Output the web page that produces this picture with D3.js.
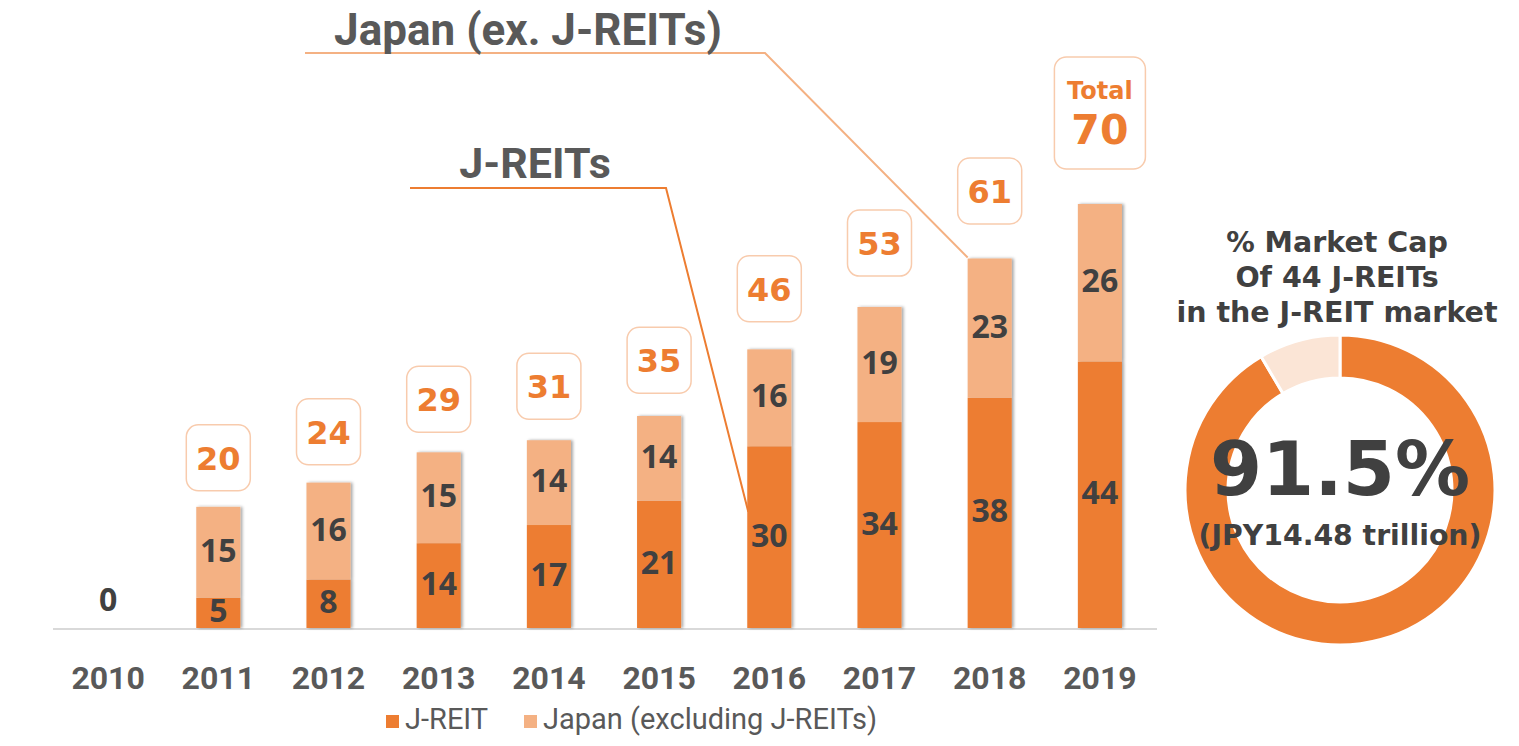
<!DOCTYPE html>
<html lang="en">
<head>
	<meta charset="UTF-8" />
	<script src="https://d3js.org/d3.v7.min.js"></script>
	<title>J-REIT market cap</title>
	<style>
		body { margin: 0; background: #fff; }
	</style>
</head>
<body>
	<script>
		var w = 1519;
		var h = 746;

		// data (JPY trillion)
		var years = ["2010", "2011", "2012", "2013", "2014", "2015", "2016", "2017", "2018", "2019"];
		var jreit = [0, 5, 8, 14, 17, 21, 30, 34, 38, 44];
		var japanEx = [0, 15, 16, 15, 14, 14, 16, 19, 23, 26];
		var seriesNames = ["J-REIT", "Japan (excluding J-REITs)"];
		var shareLabels = ["44 J-REITs", "Others"];
		var shareValues = [91.5, 8.5];

		var dark = "#ED7D31";
		var light = "#F4B183";
		var pale = "#FBE5D6";
		var textDark = "#404040";
		var textGray = "#595959";
		var narrow = "'Liberation Sans Narrow', 'Roboto', sans-serif";
		var verdanaLike = "'DejaVu Sans', Verdana, sans-serif";

		var svg = d3.select("body")
			.append("svg")
			.attr("width", w)
			.attr("height", h);

		var defs = svg.append("defs");
		var shadow = defs.append("filter").attr("id", "shadow")
			.attr("x", "-20%").attr("y", "-5%").attr("width", "150%").attr("height", "110%");
		shadow.append("feDropShadow")
			.attr("dx", 2).attr("dy", 0).attr("stdDeviation", 1.8)
			.attr("flood-color", "#000").attr("flood-opacity", 0.35);

		var x = d3.scaleBand()
			.domain(years)
			.range([53, 1155])
			.padding(0);

		var y = d3.scaleLinear()
			.domain([0, 70])
			.range([628, 204]);

		var barW = x.bandwidth() * 0.4;

		var rows = years.map(function (yr, i) {
			return { year: yr, jreit: jreit[i], japan: japanEx[i], total: jreit[i] + japanEx[i] };
		});

		// callout lines (drawn first, behind bars)
		var r2018 = rows[8];
		svg.append("polyline")
			.attr("points", [[305, 53], [765, 53], [x(r2018.year) + x.bandwidth() / 2 - barW / 2, y(r2018.total) - 1]].join(" "))
			.attr("fill", "none")
			.attr("stroke", light)
			.attr("stroke-width", 2);

		var r2016 = rows[6];
		svg.append("polyline")
			.attr("points", [[410, 188], [666, 188], [x(r2016.year) + x.bandwidth() / 2 - barW / 2 + 1, y(r2016.jreit * 0.64)]].join(" "))
			.attr("fill", "none")
			.attr("stroke", dark)
			.attr("stroke-width", 2);

		svg.append("text")
			.attr("x", 528).attr("y", 45)
			.attr("text-anchor", "middle")
			.style("font-family", narrow)
			.style("font-weight", "bold")
			.style("font-size", "44px")
			.attr("fill", textGray)
			.text("Japan (ex. J-REITs)");

		svg.append("text")
			.attr("x", 535).attr("y", 178)
			.attr("text-anchor", "middle")
			.style("font-family", narrow)
			.style("font-weight", "bold")
			.style("font-size", "43px")
			.attr("fill", textGray)
			.text("J-REITs");

		// axis baseline
		svg.append("line")
			.attr("x1", 53).attr("x2", 1157)
			.attr("y1", 629).attr("y2", 629)
			.attr("stroke", "#D9D9D9")
			.attr("stroke-width", 2);

		var xAxis = svg.append("g")
			.attr("transform", "translate(0,629)")
			.call(d3.axisBottom(x).tickSize(0).tickPadding(0));
		xAxis.select(".domain").remove();
		xAxis.selectAll("text")
			.attr("y", 60)
			.attr("dy", null)
			.style("font-family", narrow)
			.style("font-weight", "bold")
			.style("font-size", "32px")
			.attr("fill", textGray);

		var bars = svg.append("g").selectAll("g")
			.data(rows.filter(function (d) { return d.total > 0; }))
			.enter()
			.append("g")
			.attr("filter", "url(#shadow)");

		bars.append("rect")
			.attr("x", function (d) { return x(d.year) + x.bandwidth() / 2 - barW / 2; })
			.attr("width", barW)
			.attr("y", function (d) { return y(d.jreit); })
			.attr("height", function (d) { return y(0) - y(d.jreit); })
			.attr("fill", dark);

		bars.append("rect")
			.attr("x", function (d) { return x(d.year) + x.bandwidth() / 2 - barW / 2; })
			.attr("width", barW)
			.attr("y", function (d) { return y(d.total); })
			.attr("height", function (d) { return y(d.jreit) - y(d.total); })
			.attr("fill", light);

		// segment values
		var segLabels = svg.append("g")
			.style("font-family", "'Open Sans', sans-serif")
			.style("font-weight", "bold")
			.style("font-size", "32px")
			.attr("fill", textDark)
			.attr("text-anchor", "middle");

		rows.forEach(function (d) {
			var cx = x(d.year) + x.bandwidth() / 2;
			if (d.total === 0) {
				segLabels.append("text").attr("x", cx).attr("y", y(0) - 26)
					.attr("dominant-baseline", "middle").text(d.total);
				return;
			}
			segLabels.append("text").attr("x", cx).attr("y", y(d.jreit / 2) + 1)
				.attr("dominant-baseline", "middle").text(d.jreit);
			segLabels.append("text").attr("x", cx).attr("y", y(d.jreit + d.japan / 2) + 1)
				.attr("dominant-baseline", "middle").text(d.japan);
		});

		// total boxes
		var totals = svg.append("g");
		rows.forEach(function (d, i) {
			if (d.total === 0) return;
			var cx = x(d.year) + x.bandwidth() / 2;
			var last = i === rows.length - 1;
			var bw = last ? 91 : 64;
			var bh = last ? 112 : 66;
			var cy = last ? y(d.total) - 91 : y(d.total) - (40 + d.total * 0.45);
			totals.append("rect")
				.attr("x", cx - bw / 2).attr("y", cy - bh / 2)
				.attr("width", bw).attr("height", bh)
				.attr("rx", 12)
				.attr("fill", "#fff")
				.attr("stroke", "#F8CBAD")
				.attr("stroke-width", 1.5);
			if (last) {
				totals.append("text")
					.attr("x", cx).attr("y", cy - 14)
					.attr("text-anchor", "middle")
					.style("font-family", verdanaLike)
					.style("font-weight", "bold")
					.style("font-size", "24px")
					.attr("fill", dark)
					.text("Total");
				totals.append("text")
					.attr("x", cx).attr("y", cy + 31)
					.attr("text-anchor", "middle")
					.style("font-family", verdanaLike)
					.style("font-weight", "bold")
					.style("font-size", "41px")
					.attr("fill", dark)
					.text(d.total);
			} else {
				totals.append("text")
					.attr("x", cx).attr("y", cy + 12)
					.attr("text-anchor", "middle")
					.style("font-family", verdanaLike)
					.style("font-weight", "bold")
					.style("font-size", "32px")
					.attr("fill", dark)
					.text(d.total);
			}
		});

		// legend
		var legend = svg.append("g").attr("transform", "translate(386,715)");
		var legendX = [0, 138];
		seriesNames.forEach(function (name, i) {
			legend.append("rect")
				.attr("x", legendX[i]).attr("y", 0)
				.attr("width", 13).attr("height", 13)
				.attr("fill", i === 0 ? dark : light);
			legend.append("text")
				.attr("x", legendX[i] + 19).attr("y", 14)
				.style("font-family", narrow)
				.style("font-size", "29px")
				.attr("fill", textGray)
				.text(name);
		});

		// donut
		var cxD = 1340, cyD = 490;
		var pie = d3.pie().sort(null).value(function (d) { return d; });
		var arc = d3.arc().innerRadius(112).outerRadius(155);
		var donut = svg.append("g").attr("transform", "translate(" + cxD + "," + cyD + ")");
		donut.selectAll("path")
			.data(pie(shareValues))
			.enter()
			.append("path")
			.attr("d", arc)
			.attr("fill", function (d, i) { return i === 0 ? dark : pale; })
			.attr("stroke", "#fff")
			.attr("stroke-width", 3)
			.append("title")
			.text(function (d, i) { return shareLabels[i] + ": " + d.value + "%"; });

		var titleLines = ["% Market Cap", "Of 44 J-REITs", "in the J-REIT market"];
		svg.append("g").selectAll("text")
			.data(titleLines)
			.enter()
			.append("text")
			.attr("x", 1337)
			.attr("y", function (d, i) { return 252 + i * 35; })
			.attr("text-anchor", "middle")
			.style("font-family", verdanaLike)
			.style("font-weight", "bold")
			.style("font-size", "28.5px")
			.attr("fill", textDark)
			.text(function (d) { return d; });

		svg.append("text")
			.attr("x", cxD).attr("y", 495)
			.attr("text-anchor", "middle")
			.style("font-family", verdanaLike)
			.style("font-weight", "bold")
			.style("font-size", "75px")
			.attr("fill", textDark)
			.text(shareValues[0] + "%");

		svg.append("text")
			.attr("x", cxD).attr("y", 545)
			.attr("text-anchor", "middle")
			.style("font-family", verdanaLike)
			.style("font-weight", "bold")
			.style("font-size", "28.3px")
			.attr("fill", textDark)
			.text("(JPY14.48 trillion)");
	</script>
</body>
</html>
